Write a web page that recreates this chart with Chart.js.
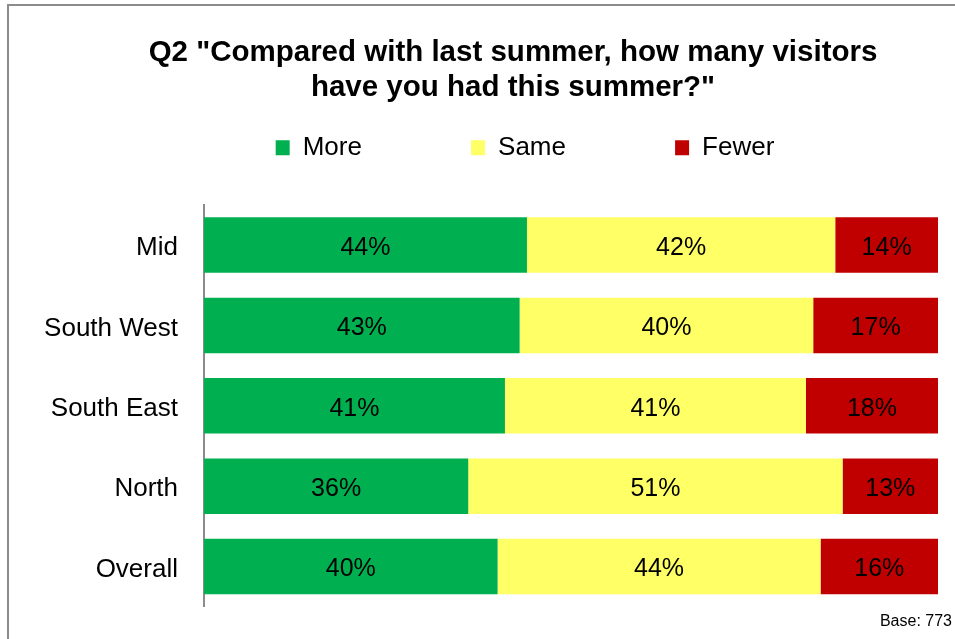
<!DOCTYPE html>
<html>
<head>
<meta charset="utf-8">
<script src="https://cdn.jsdelivr.net/npm/chart.js@4/dist/chart.umd.min.js"></script>
<style>
  html, body { margin: 0; padding: 0; background: #fff; }
  canvas { display: block; }
</style>
</head>
<body>
<canvas id="chart-1" width="955" height="639"></canvas>
<script>
const regions = ['Mid', 'South West', 'South East', 'North', 'Overall'];
const moreVals = [44, 43, 41, 36, 40];
const sameVals = [42, 40, 41, 51, 44];
const fewerVals = [14, 17, 18, 13, 16];
const seriesNames = ['More', 'Same', 'Fewer'];
const seriesColors = ['#00b050', '#ffff66', '#c00000'];
const titleLines = ['Q2 "Compared with last summer, how many visitors', 'have you had this summer?"'];
const baseNote = 'Base: 773';

const FONT = 'Arial, "Liberation Sans", sans-serif';

// gray frame round the slide
const framePlugin = {
  id: 'frame',
  beforeDraw(chart) {
    const ctx = chart.ctx;
    ctx.save();
    ctx.fillStyle = '#fff';
    ctx.fillRect(0, 0, chart.width, chart.height);
    ctx.strokeStyle = '#8c8c8c';
    ctx.lineWidth = 2;
    ctx.strokeRect(8, 5, 1000, 1000);
    ctx.restore();
  }
};

// percent labels in the middle of each segment
const valueLabels = {
  id: 'valueLabels',
  afterDatasetsDraw(chart) {
    const ctx = chart.ctx;
    ctx.save();
    ctx.font = '25px ' + FONT;
    ctx.fillStyle = '#000';
    ctx.textAlign = 'center';
    ctx.textBaseline = 'middle';
    chart.data.datasets.forEach((ds, i) => {
      chart.getDatasetMeta(i).data.forEach((bar, j) => {
        const p = bar.getCenterPoint();
        ctx.fillText(ds.data[j] + '%', p.x, p.y + 3);
      });
    });
    ctx.restore();
  }
};

// title and legend are not centred on the canvas in the original
const headerNudge = {
  id: 'headerNudge',
  afterLayout(chart) {
    chart.titleBlock.left += 37;
    chart.titleBlock.right += 37;
    chart.legend.left += 49;
    chart.legend.right += 49;
  }
};

const gap = ' '.repeat(14);

const chart1 = new Chart(document.getElementById('chart-1'), {
  type: 'bar',
  data: {
    labels: regions,
    datasets: [
      { label: seriesNames[0], data: moreVals, backgroundColor: seriesColors[0] },
      { label: seriesNames[1], data: sameVals, backgroundColor: seriesColors[1] },
      { label: seriesNames[2], data: fewerVals, backgroundColor: seriesColors[2] }
    ]
  },
  options: {
    indexAxis: 'y',
    responsive: false,
    animation: false,
    categoryPercentage: 0.69,
    barPercentage: 1,
    layout: { padding: { left: 0, right: 3, top: 0, bottom: 0 } },
    scales: {
      x: {
        stacked: true,
        position: 'top',
        min: 0,
        max: 100,
        grid: { display: false },
        border: { display: false },
        ticks: { display: false },
        afterFit(s) { s.height = 34; }
      },
      y: {
        stacked: true,
        grid: { display: false, drawTicks: false },
        border: { display: true, color: '#8c8c8c', width: 2 },
        ticks: { color: '#000', font: { family: FONT, size: 26 }, padding: 26, labelOffset: 3 },
        afterFit(s) {
          s.width = 204;
          s.paddingTop = 0;
          s.paddingBottom = 0;
        }
      },
      spacer: {
        type: 'linear',
        position: 'right',
        display: true,
        grid: { display: false },
        border: { display: false },
        ticks: { display: false },
        afterFit(s) { s.width = 14; }
      }
    },
    plugins: {
      title: {
        display: true,
        text: titleLines,
        color: '#000',
        font: { family: FONT, size: 29.5, weight: 'bold', lineHeight: 1.2 },
        padding: { top: 35, bottom: 21 }
      },
      subtitle: {
        display: true,
        position: 'bottom',
        align: 'end',
        text: baseNote,
        color: '#000',
        font: { family: FONT, size: 16, lineHeight: 1.2 },
        padding: { top: 5, bottom: 8 }
      },
      legend: {
        display: true,
        position: 'top',
        labels: {
          color: '#000',
          font: { family: FONT, size: 26 },
          boxWidth: 14,
          boxHeight: 15,
          padding: 8,
          generateLabels(chart) {
            const items = Chart.defaults.plugins.legend.labels.generateLabels(chart);
            items.forEach((it, i) => {
              it.lineWidth = 0;
              if (i < items.length - 1) it.text = it.text + gap;
            });
            return items;
          }
        }
      },
      tooltip: { enabled: false }
    }
  },
  plugins: [framePlugin, valueLabels, headerNudge]
});
</script>
</body>
</html>
